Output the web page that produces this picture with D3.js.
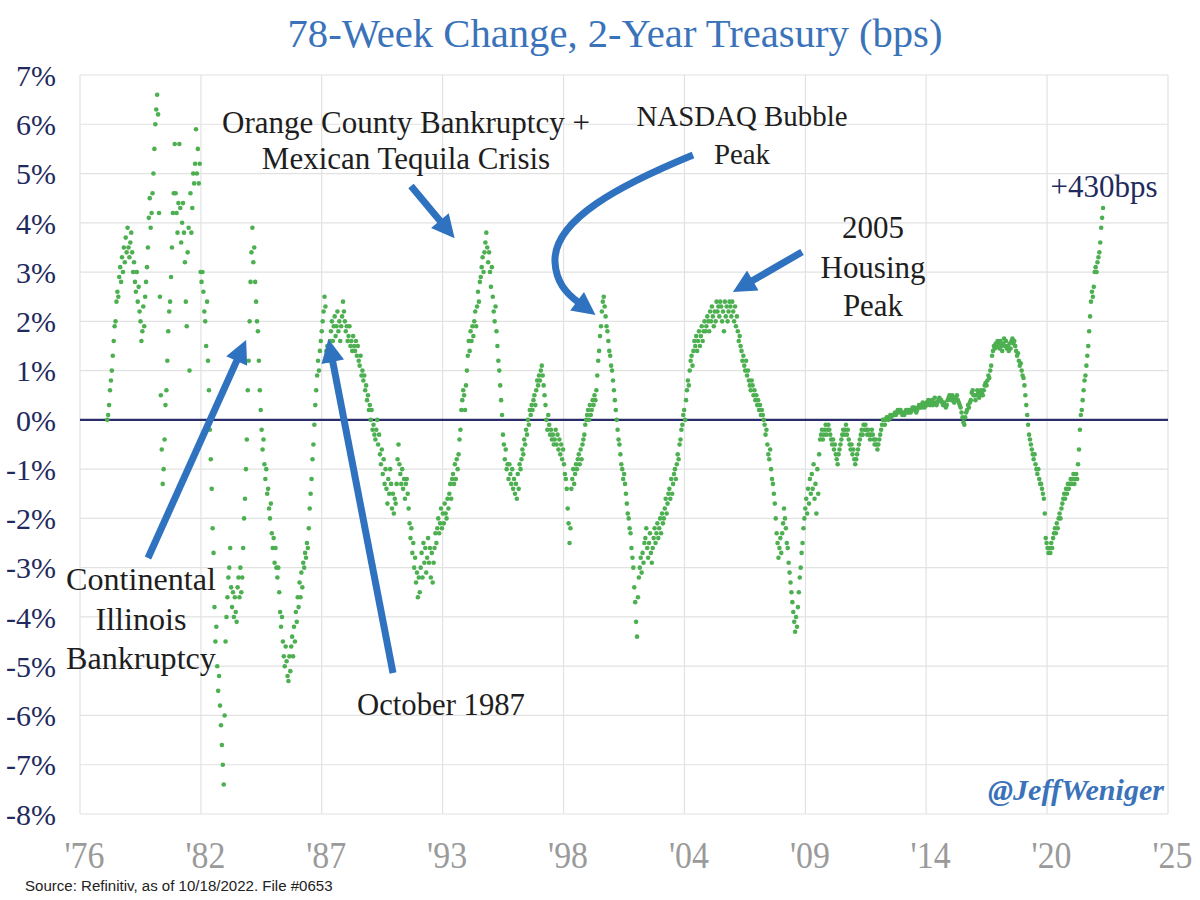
<!DOCTYPE html>
<html>
<head>
<meta charset="utf-8">
<script src="https://cdn.jsdelivr.net/npm/d3@7"></script>
<style>
  html, body { margin: 0; padding: 0; background: #ffffff; }
  svg { display: block; }
</style>
</head>
<body>
<svg id="chart" width="1200" height="900"></svg>
<script>
// ---------------- DATA ----------------
const chartTitle = "78-Week Change, 2-Year Treasury (bps)";
const sourceNote = "Source: Refinitiv, as of 10/18/2022. File #0653";
const watermark = "@JeffWeniger";

// y axis ticks (percent)
const yTickValues = [7, 6, 5, 4, 3, 2, 1, 0, -1, -2, -3, -4, -5, -6, -7, -8];
// x axis (Excel date axis, decimal years) and labels
const xTickYears = [1976.69, 1982.14, 1987.58, 1993.03, 1998.48, 2003.93, 2009.38, 2014.82, 2020.27, 2025.72];
const xTickLabels = ["'76", "'82", "'87", "'93", "'98", "'04", "'09", "'14", "'20", "'25"];

// series: 78-week change in 2Y yield (%), read twice a month, first value = Dec 1977
const seriesStartYear = 1977.917;
const readingsPerYear = 24;
const changeValues = [
  /*1977*/ 0.0, 0.1,
  /*1978*/ 0.3,0.6, 0.8,1.0, 1.3,1.6, 1.9,2.0, 2.4,2.6, 2.5,2.9, 3.1,2.8, 3.3,3.0, 3.5,3.2, 3.7,3.4, 3.9,3.5, 3.3,3.6,
  /*1979*/ 3.8,3.4, 3.0,3.2, 2.8,2.6, 3.0,2.4, 2.7,2.2, 2.0,1.6, 1.8,2.3, 1.9,2.5, 2.8,3.1, 3.5,4.1, 4.5,3.9, 4.2,4.6,
  /*1980*/ 5.0,5.5, 6.0,6.3, 6.6,6.2, 4.2,2.5, 0.5,-0.6, -1.3,-1.0, -0.4,0.3, 0.6,1.2, 1.8,2.2, 2.4,2.9, 3.5,4.2, 4.6,5.6,
  /*1981*/ 4.6,4.2, 3.8,4.4, 5.6,4.3, 3.6,4.0, 4.4,3.8, 3.2,2.4, 1.9,3.4, 3.9,1.0, 4.6,3.8, 4.3,5.0, 4.8,5.2, 5.9,5.0,
  /*1982*/ 5.5,4.8, 5.2,3.0, 2.8,3.0, 2.6,2.2, 2.0,1.5, 2.4,1.2, 0.6,-0.2, -0.8,-1.4, -2.2,-2.7, -3.8,-4.5, -4.2,-5.0, -5.5,-5.2,
  /*1983*/ -5.8,-6.2, -6.6,-7.0, -7.4,-6.0, -4.5,-4.0, -3.6,-3.2, -3.0,-2.6, -3.4,-3.8, -3.5,-4.0, -3.6,-3.9, -4.1,-3.4, -3.2,-3.6, -3.0,-3.5,
  /*1984*/ -3.2,-2.6, -2.0,-1.6, -1.0,-0.4, 0.6,1.2, 2.0,2.8, 3.4,3.9, 3.2,3.5, 2.8,2.4, 2.0,1.8, 1.2,0.6, 0.2,-0.2, -0.6,-0.4,
  /*1985*/ -0.9,-1.2, -1.0,-1.5, -1.4,-1.8, -2.0,-1.7, -2.3,-2.6, -2.4,-2.9, -2.6,-3.0, -3.2,-3.0, -3.5,-3.9, -4.2,-4.0, -4.5,-4.8, -5.0,-4.6,
  /*1986*/ -4.9,-5.2, -5.3,-4.8, -5.1,-4.6, -4.4,-4.8, -4.2,-4.5, -3.9,-4.1, -3.6,-3.8, -3.3,-3.6, -3.1,-3.4, -2.9,-3.0, -2.7,-2.8, -2.5,-2.6,
  /*1987*/ -2.2,-1.8, -1.5,-1.2, -0.8,-0.5, -0.1,0.3, 0.6,0.9, 1.2,1.0, 1.4,1.6, 1.8,2.0, 2.2,2.5, 2.3,1.4, 1.5,1.2, 1.4,1.6,
  /*1988*/ 1.8,2.0, 1.6,1.9, 2.1,1.7, 1.9,2.2, 1.8,2.0, 1.6,1.9, 2.1,2.4, 2.2,2.0, 1.8,1.9, 1.6,1.7, 1.9,1.5, 1.6,1.4,
  /*1989*/ 1.7,1.5, 1.4,1.6, 1.3,1.5, 1.2,1.1, 1.3,0.9, 1.0,0.8, 0.9,0.6, 0.7,0.4, 0.5,0.2, 0.3,0.0, 0.2,-0.2, -0.1,-0.3,
  /*1990*/ -0.4,-0.2, 0.0,-0.5, -0.3,-0.7, -0.9,-0.6, -1.1,-0.8, -1.3,-1.0, -1.4,-1.7, -1.2,-1.5, -1.0,-1.3, -1.8,-1.5, -1.9,-1.6, -1.7,-1.3,
  /*1991*/ -0.8,-0.5, -0.9,-1.1, -1.3,-1.0, -1.4,-1.2, -1.6,-1.3, -1.2,-1.5, -1.8,-2.1, -2.4,-2.2, -2.7,-2.5, -3.0,-2.8, -3.3,-3.1, -3.6,-3.2,
  /*1992*/ -3.5,-3.0, -2.7,-3.2, -2.5,-2.9, -2.6,-3.1, -2.8,-2.4, -2.9,-2.6, -3.2,-2.7, -3.3,-2.9, -2.6,-2.3, -2.5,-2.2, -2.0,-2.3, -2.1,-1.8,
  /*1993*/ -2.2,-1.9, -2.1,-1.7, -1.9,-2.0, -1.6,-1.8, -1.5,-1.3, -1.6,-1.2, -1.1,-1.3, -0.9,-1.2, -0.8,-1.0, -0.7,-0.4, -0.2,0.2, 0.4,0.6,
  /*1994*/ 0.5,0.2, 0.7,1.0, 1.3,1.6, 1.4,1.8, 1.6,1.9, 1.7,2.0, 2.2,1.9, 2.3,2.6, 2.4,2.8, 2.9,3.1, 3.3,3.0, 3.4,3.6,
  /*1995*/ 3.8,3.5, 3.2,3.4, 3.0,2.7, 3.1,2.5, 2.2,2.0, 2.3,1.8, 1.5,1.2, 1.0,0.7, 0.4,0.1, -0.3,-0.5, -0.8,-0.6, -1.0,-0.9,
  /*1996*/ -1.2,-0.9, -1.1,-1.3, -1.0,-1.4, -1.2,-1.5, -1.3,-1.6, -1.1,-1.4, -0.9,-1.0, -0.8,-0.6, -0.7,-0.4, -0.5,-0.2, -0.3,0.0, -0.1,0.2,
  /*1997*/ 0.1,0.3, 0.2,0.4, 0.5,0.3, 0.6,0.8, 0.7,0.9, 0.8,1.0, 1.1,0.9, 0.7,0.5, 0.3,0.0, -0.2,0.1, -0.1,-0.3, -0.2,-0.4,
  /*1998*/ -0.3,-0.5, -0.4,-0.2, -0.5,-0.3, -0.6,-0.4, -0.7,-0.5, -0.8,-0.6, -0.9,-1.1, -1.2,-1.4, -1.8,-2.1, -2.5,-2.2, -1.4,-1.2, -1.0,-1.3,
  /*1999*/ -1.1,-0.9, -1.0,-0.8, -0.7,-0.9, -0.6,-0.8, -0.5,-0.4, -0.3,-0.1, 0.0,0.1, 0.2,0.0, 0.3,0.1, 0.2,0.4, 0.3,0.5, 0.4,0.6,
  /*2000*/ 0.9,1.2, 1.4,1.7, 1.9,2.2, 2.4,2.5, 2.3,2.1, 1.9,1.8, 1.6,1.4, 1.3,1.1, 1.0,0.8, 0.6,0.4, 0.2,0.0, -0.2,-0.4,
  /*2001*/ -0.5,-0.7, -0.9,-1.0, -1.2,-1.1, -1.3,-1.5, -1.7,-1.9, -2.0,-2.2, -2.3,-2.6, -2.8,-3.0, -3.4,-3.7, -4.1,-4.4, -3.6,-3.2, -3.0,-2.8,
  /*2002*/ -3.1,-2.7, -2.9,-2.5, -2.4,-2.2, -2.6,-2.8, -2.5,-2.3, -2.7,-2.9, -2.6,-2.4, -2.2,-2.5, -2.3,-2.1, -2.4,-2.2, -2.0,-2.3, -1.9,-2.1,
  /*2003*/ -2.0,-1.8, -1.6,-1.9, -1.7,-1.5, -1.4,-1.6, -1.2,-1.5, -1.3,-1.1, -1.0,-1.2, -0.9,-0.7, -0.8,-0.5, -0.4,-0.2, -0.1,0.1, 0.2,0.0,
  /*2004*/ 0.4,0.6, 0.8,0.7, 1.0,1.2, 1.3,1.1, 1.4,1.6, 1.5,1.7, 1.4,1.6, 1.8,1.5, 1.7,1.9, 1.6,1.8, 2.0,1.8, 1.9,2.1,
  /*2005*/ 2.0,1.8, 2.2,2.0, 2.3,2.1, 1.9,2.2, 2.0,2.4, 2.2,2.3, 2.1,2.4, 2.3,2.0, 2.2,1.8, 2.4,2.1, 2.3,2.0, 2.2,2.4,
  /*2006*/ 2.3,2.1, 2.4,2.2, 2.0,2.3, 1.9,2.1, 1.8,1.6, 1.7,1.5, 1.4,1.2, 1.3,1.1, 1.0,1.2, 0.9,1.0, 0.8,0.7, 0.6,0.8,
  /*2007*/ 0.7,0.5, 0.6,0.4, 0.5,0.3, 0.4,0.2, 0.3,0.1, 0.2,0.1, 0.0,-0.1, -0.3,-0.2, -0.5,-0.7, -0.8,-0.6, -1.0,-1.2, -1.3,-1.5,
  /*2008*/ -1.7,-2.0, -2.3,-2.5, -2.8,-2.6, -2.4,-2.7, -2.3,-2.1, -1.8,-2.0, -2.2,-2.5, -2.6,-2.9, -3.1,-3.3, -3.5,-3.7, -3.9,-4.1, -4.3,-4.0,
  /*2009*/ -4.2,-3.8, -3.5,-3.2, -3.0,-2.7, -2.5,-2.2, -2.0,-1.8, -1.6,-1.9, -1.4,-1.7, -1.2,-1.5, -1.1,-1.4, -0.9,-1.6, -1.3,-1.9, -1.0,-1.5,
  /*2010*/ -0.7,-0.4, -0.3,-0.2, -0.4,-0.3, -0.2,-0.1, -0.3,-0.2, -0.1,-0.2, -0.3,-0.4, -0.5,-0.4, -0.6,-0.5, -0.7,-0.8, -0.9,-0.7, -0.6,-0.5,
  /*2011*/ -0.4,-0.3, -0.2,-0.3, -0.2,-0.1, -0.3,-0.2, -0.4,-0.5, -0.6,-0.5, -0.7,-0.6, -0.8,-0.9, -0.8,-0.7, -0.6,-0.5, -0.4,-0.3, -0.2,-0.3,
  /*2012*/ -0.1,-0.2, -0.1,-0.2, -0.3,-0.2, -0.3,-0.4, -0.3,-0.2, -0.3,-0.4, -0.5,-0.4, -0.5,-0.6, -0.5,-0.4, -0.3,-0.2, -0.1,0.0, 0.0,-0.1,
  /*2013*/ 0.0,0.05, 0.05,0.0, 0.05,0.1, 0.05,0.1, 0.1,0.1, 0.15,0.1, 0.15,0.2, 0.15,0.2, 0.2,0.15, 0.1,0.15, 0.1,0.15, 0.2,0.15,
  /*2014*/ 0.2,0.15, 0.2,0.15, 0.2,0.25, 0.2,0.25, 0.2,0.15, 0.2,0.25, 0.3,0.25, 0.3,0.25, 0.35,0.3, 0.25,0.3, 0.35,0.3, 0.4,0.35,
  /*2015*/ 0.3,0.35, 0.4,0.3, 0.35,0.45, 0.35,0.3, 0.35,0.4, 0.45,0.4, 0.4,0.35, 0.3,0.35, 0.3,0.25, 0.3,0.4, 0.45,0.5, 0.45,0.4,
  /*2016*/ 0.5,0.45, 0.35,0.4, 0.45,0.5, 0.4,0.35, 0.3,0.25, 0.15,0.05, -0.05,-0.1, 0.05,0.15, 0.2,0.3, 0.25,0.35, 0.4,0.55, 0.6,0.5,
  /*2017*/ 0.5,0.4, 0.5,0.6, 0.55,0.45, 0.5,0.6, 0.55,0.5, 0.6,0.7, 0.75,0.7, 0.8,0.9, 0.85,1.0, 1.1,1.3, 1.4,1.5, 1.45,1.55,
  /*2018*/ 1.5,1.6, 1.55,1.45, 1.6,1.5, 1.4,1.55, 1.65,1.5, 1.6,1.45, 1.5,1.4, 1.55,1.45, 1.6,1.65, 1.55,1.6, 1.5,1.4, 1.3,1.35,
  /*2019*/ 1.2,1.1, 1.15,1.0, 0.9,0.85, 0.7,0.5, 0.3,0.1, -0.1,-0.3, -0.4,-0.5, -0.6,-0.7, -0.8,-0.7, -0.9,-1.0, -1.1,-1.0, -1.2,-1.3,
  /*2020*/ -1.3,-1.4, -1.5,-1.6, -1.9,-2.4, -2.5,-2.6, -2.7,-2.6, -2.7,-2.5, -2.6,-2.4, -2.3,-2.2, -2.3,-2.1, -2.2,-2.0, -1.9,-2.0, -1.8,-1.7,
  /*2021*/ -1.6,-1.5, -1.6,-1.4, -1.5,-1.3, -1.4,-1.3, -1.2,-1.3, -1.2,-1.1, -1.3,-1.2, -1.1,-1.2, -0.9,-0.6, -0.2,0.1, 0.2,0.4, 0.6,0.8,
  /*2022*/ 0.9,1.1, 1.3,1.5, 1.8,2.1, 2.4,2.6, 2.5,2.7, 3.0,3.1, 3.0,3.2, 3.3,3.4, 3.6,3.9, 4.1,4.3
];

// annotation texts
const annoOrange = ["Orange County Bankruptcy +", "Mexican Tequila Crisis"];
const annoNasdaq = ["NASDAQ Bubble", "Peak"];
const annoHousing = ["2005", "Housing", "Peak"];
const annoContinental = ["Continental", "Illinois", "Bankruptcy"];
const annoOctober = ["October 1987"];
const annoLatest = ["+430bps"];

// ---------------- DRAW ----------------
const svg = d3.select("#chart");
const W = 1200, H = 900;
const plot = { left: 80, right: 1168, top: 75, bottom: 814 };

const COL = {
  title: "#3a73b9",
  navy: "#1f2a5e",
  grid: "#e2e2e2",
  zero: "#2b2c6c",
  dot: "#4caf50",
  arrow: "#2f72c0",
  text: "#1e1e1e",
  xlab: "#9a9a9a"
};
const SERIF = "'Liberation Serif', 'Times New Roman', serif";

svg.append("rect").attr("width", W).attr("height", H).attr("fill", "#fff");

const x = d3.scaleLinear().domain([xTickYears[0], xTickYears[xTickYears.length - 1]]).range([plot.left, plot.right]);
const y = d3.scaleLinear().domain([-8, 7]).range([plot.bottom, plot.top]);

// grid
const grid = svg.append("g");
grid.selectAll("line.h").data(yTickValues).join("line")
  .attr("x1", plot.left).attr("x2", plot.right)
  .attr("y1", d => y(d)).attr("y2", d => y(d))
  .attr("stroke", COL.grid).attr("stroke-width", 1.2);
grid.selectAll("line.v").data(xTickYears).join("line")
  .attr("x1", d => x(d)).attr("x2", d => x(d))
  .attr("y1", plot.top).attr("y2", plot.bottom)
  .attr("stroke", COL.grid).attr("stroke-width", 1.2);

// y axis labels
const yAxis = d3.axisLeft(y).tickValues(yTickValues).tickSize(0).tickPadding(0)
  .tickFormat(d => d + "%");
const yg = svg.append("g").attr("transform", `translate(56,0)`).call(yAxis);
yg.select(".domain").remove();
yg.selectAll("text").attr("font-family", SERIF).attr("font-size", 30)
  .attr("fill", COL.navy).attr("dy", "0.34em").attr("x", 0);

// x axis labels
const xAxis = d3.axisBottom(x).tickValues(xTickYears).tickSize(0).tickPadding(0)
  .tickFormat((d, i) => xTickLabels[i]);
const xg = svg.append("g").attr("transform", `translate(4,868)`).call(xAxis);
xg.select(".domain").remove();
xg.selectAll("text").attr("font-family", SERIF).attr("font-size", 38)
  .attr("fill", COL.xlab).attr("dy", 0).attr("y", 0)
  .attr("textLength", 40).attr("lengthAdjust", "spacingAndGlyphs");

// zero line
svg.append("line").attr("x1", plot.left).attr("x2", plot.right)
  .attr("y1", y(0)).attr("y2", y(0))
  .attr("stroke", COL.zero).attr("stroke-width", 2.2);

// dots
const points = changeValues.map((v, i) => ({ t: seriesStartYear + i / readingsPerYear, v }));
svg.append("g").selectAll("circle").data(points).join("circle")
  .attr("cx", d => x(d.t)).attr("cy", d => y(d.v)).attr("r", 2.3)
  .attr("fill", COL.dot);

// arrows
const defs = svg.append("defs");
defs.append("marker").attr("id", "head")
  .attr("viewBox", "0 0 10 10").attr("refX", 0.5).attr("refY", 5)
  .attr("markerUnits", "userSpaceOnUse").attr("markerWidth", 24).attr("markerHeight", 23)
  .attr("orient", "auto")
  .append("path").attr("d", "M0,0 L10,5 L0,10 Z").attr("fill", COL.arrow);

const HEAD = 24;
function straightArrow(x1, y1, x2, y2) {
  const dx = x2 - x1, dy = y2 - y1, L = Math.hypot(dx, dy);
  const ex = x2 - dx / L * HEAD, ey = y2 - dy / L * HEAD;
  svg.append("line").attr("x1", x1).attr("y1", y1).attr("x2", ex).attr("y2", ey)
    .attr("stroke", COL.arrow).attr("stroke-width", 7).attr("marker-end", "url(#head)");
}
straightArrow(148, 558, 247, 338);   // Continental Illinois
straightArrow(393, 673, 328, 337);   // October 1987
straightArrow(411, 186, 456, 240);   // Orange County
straightArrow(802, 252, 731, 293);   // 2005 housing
svg.append("path")                    // NASDAQ (curved)
  .attr("d", "M693,155 C620,185 553,220 555,262 C556,282 566,293 578,302")
  .attr("fill", "none").attr("stroke", COL.arrow).attr("stroke-width", 7)
  .attr("marker-end", "url(#head)");

// text helpers
function block(lines, cx, baselines, refIndex, refWidth, color, weight, style) {
  const g = svg.append("g");
  const ts = lines.map((s, i) => g.append("text").text(s)
    .attr("x", cx).attr("y", baselines[i]).attr("text-anchor", "middle")
    .attr("font-family", SERIF).attr("font-size", 30)
    .attr("font-weight", weight || "normal").attr("font-style", style || "normal")
    .attr("fill", color));
  const w = ts[refIndex].node().getComputedTextLength();
  const fs = 30 * refWidth / w;
  ts.forEach(t => t.attr("font-size", fs));
  return g;
}

// title
block([chartTitle], 615, [47], 0, 655, COL.title);

// annotations
block(annoOrange, 406, [133, 169], 0, 368, COL.text);
block(annoNasdaq, 742, [126, 164], 0, 211, COL.text);
block(annoHousing, 873, [238, 278, 316], 1, 105, COL.text);
block(annoContinental, 141, [590, 630, 669], 0, 150, COL.text);
block(annoOctober, 441, [715], 0, 168, COL.text);
block(annoLatest, 1104, [197], 0, 107, COL.navy);

// watermark
const wm = svg.append("text").text(watermark)
  .attr("x", 1164).attr("y", 800).attr("text-anchor", "end")
  .attr("font-family", SERIF).attr("font-weight", "bold").attr("font-style", "italic")
  .attr("font-size", 26).attr("fill", COL.title);
{
  const w = wm.node().getComputedTextLength();
  wm.attr("font-size", 26 * 176 / w);
}

// source
const src = svg.append("text").text(sourceNote)
  .attr("x", 25).attr("y", 891)
  .attr("font-family", "'Liberation Sans', Arial, sans-serif")
  .attr("font-size", 13).attr("fill", "#222");
{
  const w = src.node().getComputedTextLength();
  src.attr("font-size", 13 * 308 / w);
}
</script>
</body>
</html>
